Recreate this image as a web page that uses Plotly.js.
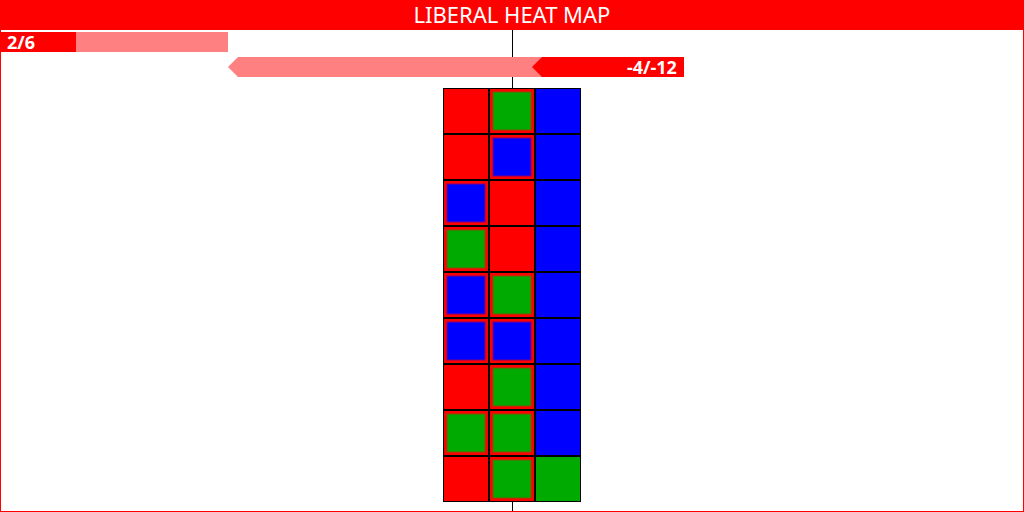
<!DOCTYPE html>
<html>
<head>
<meta charset="utf-8">
<script src="https://cdn.plot.ly/plotly-3.0.1.min.js"></script>
<style>html,body{margin:0;padding:0;background:#fff}#chart{width:1024px;height:512px}</style>
</head>
<body>
<div id="chart"></div>
<script>
// ---- data ----
const titleText = 'LIBERAL HEAT MAP';
const barLabels = ['2/6', '-4/-12'];
const barValues = [2, -4];
const barTotals = [6, -12];
// heat map cells: 0 = red, 1 = green, 2 = blue
const cellColumns = ['C1', 'C2', 'C3'];
const cellRows = ['R1', 'R2', 'R3', 'R4', 'R5', 'R6', 'R7', 'R8', 'R9'];
const cellOuter = [
  [0, 0, 2],
  [0, 0, 2],
  [0, 0, 2],
  [0, 0, 2],
  [0, 0, 2],
  [0, 0, 2],
  [0, 0, 2],
  [0, 0, 2],
  [0, 0, 1]
];
const cellInner = [
  [null, 1, null],
  [null, 2, null],
  [2, null, null],
  [1, null, null],
  [2, 1, null],
  [2, 2, null],
  [null, 1, null],
  [1, 1, null],
  [null, 1, null]
];

// ---- styles ----
const RED = '#ff0000', LIGHT = '#ff8080', GREEN = '#00aa00', BLUE = '#0000ff';
const palette = [RED, GREEN, BLUE];
const paletteHalf = ['rgba(255,0,0,0.5)', 'rgba(0,170,0,0.5)', 'rgba(0,0,255,0.5)'];
const W = 1024, H = 512;
const UNIT = 38;           // px per bar unit
const ROWPX = 25;          // px per bar row
const ROW0 = 42;           // px centre of first bar row
const HALF = 0.4;          // bar half height (rows)
const TIP = 10 / UNIT;     // arrow depth

const traces = [];
const annotations = [];

// bars
let offset = 0;
function barPoly(a, b, yc, arrowLeft) {
  const x0 = Math.min(a, b), x1 = Math.max(a, b);
  const top = yc - HALF, bot = yc + HALF;
  if (arrowLeft) {
    return {x: [x0, x0 + TIP, x1, x1, x0 + TIP, x0], y: [yc, top, top, bot, bot, yc]};
  }
  return {x: [x0, x1, x1, x0, x0], y: [top, top, bot, bot, top]};
}
barTotals.forEach((tot, i) => {
  const neg = tot < 0;
  const start = offset;
  const end = offset + Math.abs(tot);
  const anchor = neg ? end : start;
  const full = barPoly(start, end, i, neg);
  traces.push({type: 'scatter', mode: 'lines', x: full.x, y: full.y, fill: 'toself',
    fillcolor: LIGHT, line: {width: 0, color: LIGHT}, hoverinfo: 'skip', xaxis: 'x', yaxis: 'y'});
  const part = barPoly(anchor, anchor + barValues[i], i, neg);
  traces.push({type: 'scatter', mode: 'lines', x: part.x, y: part.y, fill: 'toself',
    fillcolor: RED, line: {width: 0, color: RED}, hoverinfo: 'skip', xaxis: 'x', yaxis: 'y'});
  annotations.push({xref: 'x', yref: 'y', x: anchor, y: i, text: '<b>' + barLabels[i] + '</b>',
    showarrow: false, xanchor: neg ? 'right' : 'left', yanchor: 'middle',
    xshift: neg ? -5 : 5, yshift: 0,
    font: {family: 'Noto Sans, sans-serif', size: 18, color: '#ffffff'}});
  offset = end;
});

// heat map
traces.push({type: 'heatmap', z: cellOuter, x: [0, 1, 2], y: cellRows.map((r, i) => i),
  zmin: 0, zmax: 2, colorscale: [[0, RED], [0.5, GREEN], [1, BLUE]], showscale: false,
  xgap: 2, ygap: 2, hoverinfo: 'skip', xaxis: 'x2', yaxis: 'y2'});
const ix = [], iy = [], ic = [], il = [];
cellInner.forEach((row, r) => row.forEach((v, c) => {
  if (v !== null) { ix.push(c); iy.push(r); ic.push(palette[v]); il.push(paletteHalf[v]); }
}));
traces.push({type: 'scatter', mode: 'markers', x: ix, y: iy,
  marker: {symbol: 'square', size: 37, color: ic, line: {width: 2, color: il}},
  hoverinfo: 'skip', xaxis: 'x2', yaxis: 'y2'});

const gx0 = 443, gx1 = 581, gy0 = 88, gy1 = 502;
const hidden = {showgrid: false, zeroline: false, showticklabels: false, ticks: '', showline: false, fixedrange: true};
const yTopVal = -ROW0 / ROWPX;

const layout = {
  width: W, height: H,
  margin: {l: 0, r: 0, t: 0, b: 0, pad: 0},
  paper_bgcolor: '#ffffff', plot_bgcolor: 'rgba(0,0,0,0)',
  showlegend: false,
  title: {text: titleText, x: 0.5, xanchor: 'center', xref: 'paper',
    y: 1 - 15 / H, yanchor: 'middle', yref: 'container',
    font: {family: 'Noto Sans, sans-serif', size: 22, color: '#ffffff'}},
  xaxis: Object.assign({domain: [0, 1], range: [0, W / UNIT]}, hidden),
  yaxis: Object.assign({domain: [0, 1], range: [yTopVal + H / ROWPX, yTopVal]}, hidden),
  xaxis2: Object.assign({domain: [gx0 / W, gx1 / W], range: [-0.5, 2.5], anchor: 'y2'}, hidden),
  yaxis2: Object.assign({domain: [1 - gy1 / H, 1 - gy0 / H], range: [8.5, -0.5], anchor: 'x2'}, hidden),
  shapes: [
    {type: 'line', xref: 'paper', yref: 'paper', x0: 512.5 / W, x1: 512.5 / W, y0: 0, y1: 1 - 30 / H,
      line: {color: '#000000', width: 1}, layer: 'below'},
    {type: 'rect', xref: 'x2', yref: 'y2', x0: -0.5, x1: 2.5, y0: -0.5, y1: 8.5,
      fillcolor: '#000000', line: {color: '#000000', width: 1.5}, layer: 'below'},
    {type: 'rect', xref: 'paper', yref: 'paper', x0: 0, x1: 1, y0: 1 - 30 / H, y1: 1,
      fillcolor: RED, line: {width: 0}, layer: 'below'},
    {type: 'rect', xref: 'paper', yref: 'paper', x0: 0, x1: 1, y0: 0, y1: 1,
      fillcolor: 'rgba(0,0,0,0)', line: {color: RED, width: 2}, layer: 'above'}
  ],
  annotations: annotations
};

Plotly.newPlot('chart', traces, layout, {staticPlot: true, displayModeBar: false});
</script>
</body>
</html>
